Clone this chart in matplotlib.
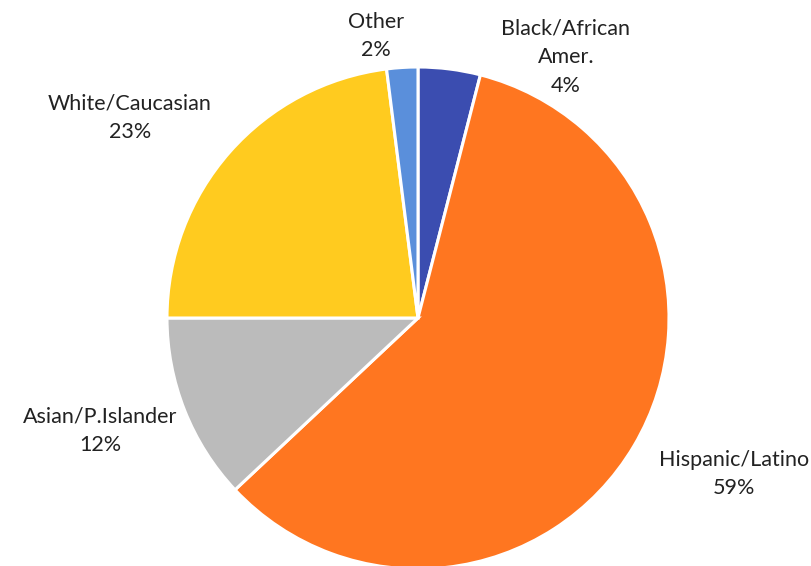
import matplotlib
matplotlib.use("Agg")
import matplotlib.pyplot as plt

# Share of students by race/ethnicity (percent)
categories = ["Black/African\nAmer.", "Hispanic/Latino", "Asian/P.Islander",
              "White/Caucasian", "Other"]
values = [4, 59, 12, 23, 2]
colors = ["#3B4DB0", "#FF7620", "#BBBBBB", "#FFCB1F", "#5A8FDB"]

# label anchor positions (pixel coordinates, origin bottom-left)
label_pos = [(566, 566 - 57), (734, 566 - 474), (100, 566 - 431),
             (130, 566 - 118), (376, 566 - 36)]

W, H = 812, 566
fig = plt.figure(figsize=(W / 100, H / 100), dpi=100)
ax = fig.add_axes([0, 0, 1, 1])

ax.pie(values, colors=colors, startangle=90, counterclock=False,
       center=(418, H - 318), radius=251,
       wedgeprops=dict(edgecolor="white", linewidth=2.2))

ax.set_xlim(0, W)
ax.set_ylim(0, H)
ax.set_aspect("auto")
ax.axis("off")

for name, val, (x, y) in zip(categories, values, label_pos):
    ax.text(x, y, f"{name}\n{val}%", ha="center", va="center",
            fontsize=15.5, family=["Lato", "DejaVu Sans"], color="#222222",
            linespacing=1.55)

fig.savefig("out.png", dpi=100, facecolor="white")
